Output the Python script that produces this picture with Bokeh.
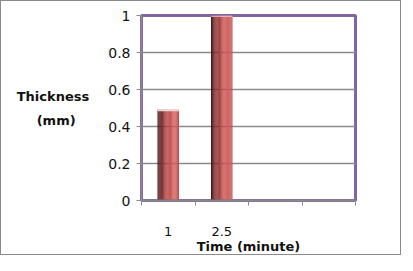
from bokeh.plotting import figure
from bokeh.models import Range1d, FixedTicker
from bokeh.embed import file_html
from bokeh.resources import INLINE
import numpy as np

# data
categories = ["1", "2.5", "", ""]
thickness = [0.49, 1.0]
y_ticks = [0, 0.2, 0.4, 0.6, 0.8, 1.0]
y_tick_labels = ["0", "0.2", "0.4", "0.6", "0.8", "1"]
y_title_lines = ["Thickness", "(mm)"]

FONT = "DejaVu Sans"
W, H = 401, 255
ML, MR, MT, MB = 140, 47, 14, 52

p = figure(width=W, height=H, output_backend="svg", toolbar_location=None,
           x_range=Range1d(0, len(categories)), y_range=Range1d(0, 1),
           min_border_left=ML, min_border_right=MR, min_border_top=MT, min_border_bottom=MB)
p.styles = {"border": "1px solid #8a8a8a", "box-sizing": "border-box"}
p.outline_line_color = "#8064a2"
p.outline_line_width = 3
p.background_fill_color = "white"

# bars with horizontal gradient, drawn as thin strips
centers = [i + 0.5 for i in range(len(thickness))]
bar_w = 0.4
n = 24
stops_pos = [0.0, 0.2, 0.45, 0.7, 0.85, 1.0]
stops_col = [(0x40, 0x12, 0x12), (0x7a, 0x28, 0x27), (0xb2, 0x44, 0x41),
             (0xcf, 0x58, 0x55), (0xd2, 0x5c, 0x59), (0xb8, 0x4e, 0x4b)]
sw = bar_w / n
for k in range(n):
    t = (k + 0.5) / n
    rgb = [int(np.interp(t, stops_pos, [c[j] for c in stops_col])) for j in range(3)]
    col = "#%02x%02x%02x" % tuple(rgb)
    off = -bar_w / 2 + (k + 0.5) * sw
    p.vbar(x=[c + off for c in centers], top=thickness, width=sw * 1.1, bottom=0,
           fill_color=col, line_color=None)
# light top cap
p.vbar(x=centers, top=thickness, bottom=[t - 0.007 for t in thickness], width=bar_w,
       fill_color="#f2d4d4", line_color=None)

# y axis
yax = p.yaxis[0]
yax.ticker = FixedTicker(ticks=y_ticks)
yax.major_label_overrides = {t: l for t, l in zip(y_ticks, y_tick_labels)}
yax.axis_line_color = "#8a8a8a"
yax.axis_line_width = 1.5
yax.major_tick_line_color = "#8a8a8a"
yax.major_tick_out = 5
yax.major_tick_in = 0
yax.minor_tick_line_color = None
yax.major_label_text_font = FONT
yax.major_label_text_font_size = "14px"
yax.major_label_text_color = "#111111"
yax.major_label_standoff = 6
# horizontal two-line title; second line padded with no-break spaces to look centred
yax.axis_label = y_title_lines[0] + "\n" + y_title_lines[1] + "\u00a0" * 3
yax.axis_label_orientation = "horizontal"
yax.axis_label_text_font = FONT
yax.axis_label_text_font_style = "bold"
yax.axis_label_text_font_size = "13px"
yax.axis_label_text_color = "#111111"
yax.axis_label_text_line_height = 1.6
yax.axis_label_standoff = 16

# x axis
xax = p.xaxis[0]
xax.ticker = FixedTicker(ticks=[i + 0.5 for i in range(len(categories))],
                         minor_ticks=list(range(len(categories) + 1)))
xax.major_label_overrides = {i + 0.5: c for i, c in enumerate(categories)}
xax.major_tick_line_color = None
xax.minor_tick_line_color = "#8a8a8a"
xax.minor_tick_out = 5
xax.minor_tick_in = 0
xax.axis_line_color = "#8a8a8a"
xax.axis_line_width = 2
xax.major_label_text_font = FONT
xax.major_label_text_font_size = "13px"
xax.major_label_text_color = "#111111"
xax.major_label_standoff = 20
xax.axis_label = "Time (minute)"
xax.axis_label_text_font = FONT
xax.axis_label_text_font_style = "bold"
xax.axis_label_text_font_size = "13px"
xax.axis_label_text_color = "#111111"
xax.axis_label_standoff = 0

p.xgrid.grid_line_color = None
p.ygrid.grid_line_color = "#8a8a8a"
p.ygrid.grid_line_width = 1.5
p.ygrid.ticker = FixedTicker(ticks=y_ticks)

open("out.html", "w").write(file_html(p, INLINE))
